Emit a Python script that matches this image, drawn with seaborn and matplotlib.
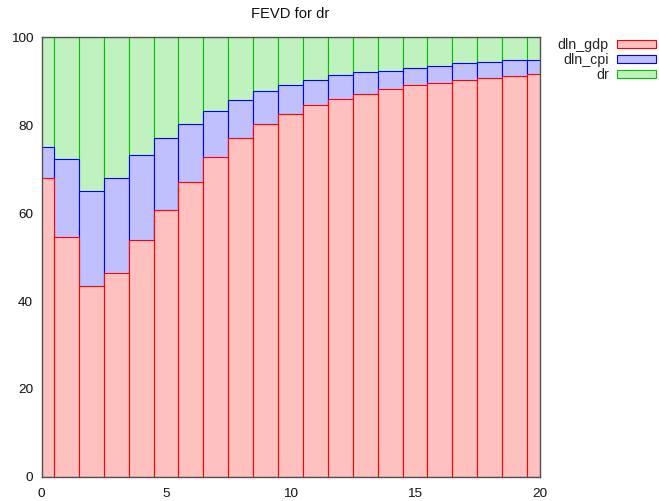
import numpy as np
import pandas as pd
import matplotlib
matplotlib.use("Agg")
import matplotlib.pyplot as plt
import seaborn as sns

# FEVD for dr - shares (%) by horizon
horizon = list(range(21))
dln_gdp = [68.0, 54.6, 43.3, 46.4, 53.9, 60.7, 67.0, 72.7, 77.0, 80.2, 82.5,
           84.5, 85.9, 87.0, 88.1, 89.0, 89.5, 90.2, 90.8, 91.2, 91.5]
dln_cpi = [7.0, 17.7, 21.8, 21.6, 19.4, 16.3, 13.3, 10.6, 8.7, 7.5, 6.5,
           5.7, 5.5, 5.0, 4.3, 3.95, 4.0, 3.8, 3.45, 3.5, 3.4]
dr = [100 - g - c for g, c in zip(dln_gdp, dln_cpi)]

series = ['dln_gdp', 'dln_cpi', 'dr']
face_colors = ['#ffc0c0', '#c0c0ff', '#c0f2c0']
edge_colors = ['#ff0000', '#0000ff', '#00c000']

df = pd.DataFrame({'horizon': horizon, 'dln_gdp': dln_gdp,
                   'dln_cpi': dln_cpi, 'dr': dr})
# cumulative tops for stacking
df['top_gdp'] = df['dln_gdp']
df['top_cpi'] = df['dln_gdp'] + df['dln_cpi']
df['top_dr'] = df['top_cpi'] + df['dr']

sns.set_theme(style='white')
plt.rcParams['font.family'] = ['Liberation Sans', 'DejaVu Sans']

fig = plt.figure(figsize=(6.59, 5.01), dpi=100)
ax = fig.add_axes([0.063, 0.048, 0.7557, 0.878])

# draw from the top of the stack down so each layer sits on the previous
for col, name, fc, ec in [('top_dr', 'dr', face_colors[2], edge_colors[2]),
                          ('top_cpi', 'dln_cpi', face_colors[1], edge_colors[1]),
                          ('top_gdp', 'dln_gdp', face_colors[0], edge_colors[0])]:
    sns.barplot(data=df, x='horizon', y=col, native_scale=True, width=1,
                color=fc, saturation=1, edgecolor=ec, linewidth=0.8,
                errorbar=None, label=name, ax=ax)

ax.set_xlim(0, 20)
ax.set_ylim(0, 100)
ax.set_xticks([0, 5, 10, 15, 20])
ax.set_yticks([0, 20, 40, 60, 80, 100])
ax.set_xlabel('')
ax.set_ylabel('')
ax.tick_params(axis='both', length=0, labelsize=9.7, colors='#111111')
ax.tick_params(axis='x', pad=8)
ax.tick_params(axis='y', pad=6)
for sp in ax.spines.values():
    sp.set_color('#505050')
    sp.set_linewidth(1.0)
    sp.set_zorder(5)
ax.set_title('FEVD for dr', fontsize=10.6, pad=14, color='#111111')

# legend: text on the left, swatch on the right, in gdp/cpi/dr order
handles, labels = ax.get_legend_handles_labels()
order = [labels.index(s) for s in series]
leg = ax.legend([handles[i] for i in order], [labels[i] for i in order],
                loc='upper left', bbox_to_anchor=(1.025, 1.01), frameon=False,
                markerfirst=False, fontsize=10.3, handlelength=2.75,
                handleheight=0.5, labelspacing=0.06, handletextpad=0.55,
                borderaxespad=0)

fig.savefig('out.png', dpi=100)
